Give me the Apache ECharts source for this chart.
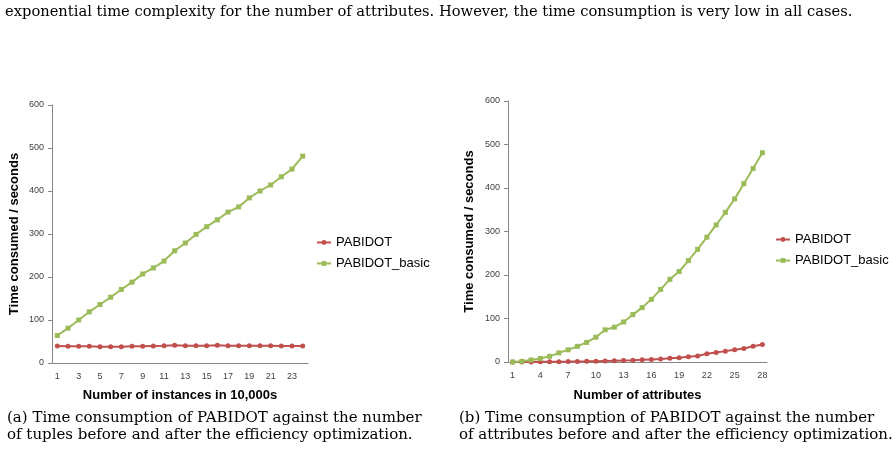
<!DOCTYPE html>
<html>
<head>
<meta charset="utf-8">
<script src="https://cdn.jsdelivr.net/npm/echarts@6/dist/echarts.min.js"></script>
<style>
  html, body { margin: 0; padding: 0; background: #fff; }
  #chart { width: 896px; height: 453px; }
</style>
</head>
<body>
<div id="chart"></div>
<script>
// (a) instances in 10,000s
const instances = ['1','2','3','4','5','6','7','8','9','10','11','12','13','14','15','16','17','18','19','20','21','22','23','24']
const pabidotA = [39.5, 39, 39, 39, 38, 38, 38, 39, 39, 39.5, 40, 41, 40, 40, 40, 41, 40, 40, 40, 40, 40, 39.5, 39.5, 39.5]
const basicA = [64, 81, 100, 119, 136, 153, 171, 188, 207, 221, 237, 261, 279, 299, 317, 333, 351, 363, 384, 400, 414, 433, 451, 481]

// (b) number of attributes
const attributes = ['1','2','3','4','5','6','7','8','9','10','11','12','13','14','15','16','17','18','19','20','21','22','23','24','25','26','27','28']
const pabidotB = [0, 0, 0.2, 0.4, 0.6, 0.8, 1, 1.3, 1.6, 2, 2.5, 3, 3.5, 4, 5, 6, 7, 8.5, 10, 12, 14, 19, 22, 25, 28, 31, 36, 40]
const basicB = [0, 1.5, 4.6, 8, 13, 21, 28, 36, 45, 57, 74, 80, 92, 109, 125, 144, 167, 190, 208, 233, 259, 287, 315, 344, 375, 410, 445, 481]

const legendNames = ['PABIDOT', 'PABIDOT_basic']

const RED = '#C0504D'
const GREEN = '#9BBB59'
const AXIS = '#868686'
const sans = 'Liberation Sans'
const serif = 'DejaVu Serif'

function xAxisFor(idx, data, interval, title, gap) {
  return {
    type: 'category',
    gridIndex: idx,
    data: data,
    boundaryGap: true,
    axisLine: { lineStyle: { color: AXIS, width: 1 } },
    axisTick: { show: false },
    axisLabel: { interval: interval, color: '#404040', fontFamily: sans, fontSize: 9, margin: 9 },
    name: title,
    nameLocation: 'middle',
    nameGap: gap,
    nameTextStyle: { fontFamily: sans, fontWeight: 'bold', fontSize: 13, color: '#000' }
  }
}

function yAxisFor(idx, gap) {
  return {
    type: 'value',
    gridIndex: idx,
    min: 0,
    max: 600,
    interval: 100,
    splitLine: { show: false },
    axisLine: { show: true, lineStyle: { color: AXIS, width: 1 } },
    axisTick: { show: true, length: 4, lineStyle: { color: AXIS } },
    axisLabel: { color: '#404040', fontFamily: sans, fontSize: 9, margin: 8 },
    name: 'Time consumed / seconds',
    nameLocation: 'middle',
    nameRotate: 90,
    nameGap: gap,
    nameTextStyle: { fontFamily: sans, fontWeight: 'bold', fontSize: 13, color: '#000' }
  }
}

function lineSeries(name, idx, data, color, symbol, size) {
  return {
    name: name,
    type: 'line',
    xAxisIndex: idx,
    yAxisIndex: idx,
    data: data,
    symbol: symbol,
    symbolSize: size,
    lineStyle: { color: color, width: 2 },
    itemStyle: { color: color },
    animation: false
  }
}

function legendAt(left, top) {
  return {
    data: legendNames,
    orient: 'vertical',
    left: left,
    top: top,
    padding: 0,
    itemWidth: 14,
    itemHeight: 6,
    itemGap: 8,
    textStyle: { fontFamily: sans, fontSize: 13, color: '#000' }
  }
}

const chart = echarts.init(document.getElementById('chart'))
chart.setOption({
  backgroundColor: '#fff',
  animation: false,
  grid: [
    { left: 52, top: 105, width: 256, height: 258 },
    { left: 508, top: 101, width: 259, height: 261 }
  ],
  xAxis: [
    xAxisFor(0, instances, 1, 'Number of instances in 10,000s', 26),
    xAxisFor(1, attributes, 2, 'Number of attributes', 27)
  ],
  yAxis: [
    yAxisFor(0, 31),
    yAxisFor(1, 32)
  ],
  legend: [
    legendAt(316, 236),
    legendAt(775, 233)
  ],
  series: [
    lineSeries('PABIDOT', 0, pabidotA, RED, 'circle', 5),
    lineSeries('PABIDOT_basic', 0, basicA, GREEN, 'rect', 5),
    lineSeries('PABIDOT', 1, pabidotB, RED, 'circle', 5),
    lineSeries('PABIDOT_basic', 1, basicB, GREEN, 'rect', 5)
  ],
  graphic: [
    {
      type: 'text', left: 5, top: 5,
      style: {
        text: 'exponential time complexity for the number of attributes. However, the time consumption is very low in all cases.',
        font: '14.7px "' + serif + '"', fill: '#000'
      }
    },
    {
      type: 'text', left: 7, top: 410,
      style: {
        text: '(a) Time consumption of PABIDOT against the number\nof tuples before and after the efficiency optimization.',
        font: '15px "' + serif + '"', fill: '#000', lineHeight: 17
      }
    },
    {
      type: 'text', left: 459, top: 410,
      style: {
        text: '(b) Time consumption of PABIDOT against the number\nof attributes before and after the efficiency optimization.',
        font: '15px "' + serif + '"', fill: '#000', lineHeight: 17
      }
    }
  ]
})
</script>
</body>
</html>
